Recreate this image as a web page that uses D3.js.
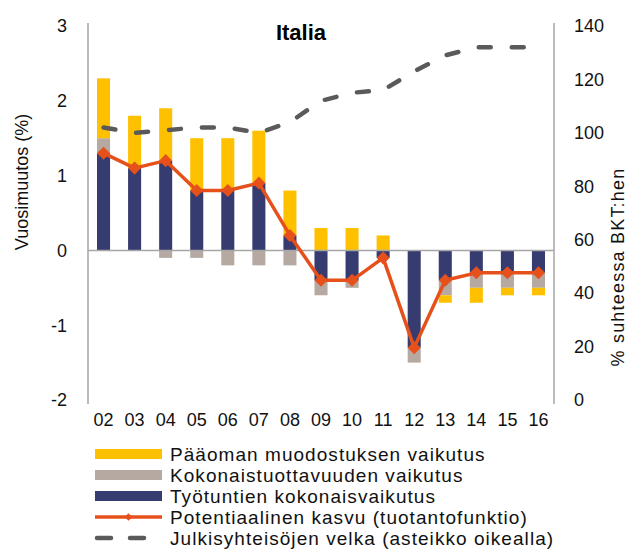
<!DOCTYPE html>
<html>
<head>
<meta charset="utf-8">
<script src="https://cdn.jsdelivr.net/npm/d3@7"></script>
<style>
body { margin: 0; background: #fff; }
svg text { font-family: "Liberation Sans", Arial, sans-serif; fill: #111; }
</style>
</head>
<body>
<div id="chart"></div>
<script>
// data
var years = ["02", "03", "04", "05", "06", "07", "08", "09", "10", "11", "12", "13", "14", "15", "16"];
var tyotunnit = [1.3, 1.1, 1.2, 0.8, 0.8, 0.9, 0.2, -0.4, -0.4, -0.1, -1.3, -0.4, -0.3, -0.3, -0.3];
var tuottavuus = [0.2, 0, -0.1, -0.1, -0.2, -0.2, -0.2, -0.2, -0.1, 0, -0.2, -0.2, -0.2, -0.2, -0.2];
var paaoma = [0.8, 0.7, 0.7, 0.7, 0.7, 0.7, 0.6, 0.3, 0.3, 0.2, 0, -0.1, -0.2, -0.1, -0.1];
var potentiaalinen = [1.3, 1.1, 1.2, 0.8, 0.8, 0.9, 0.2, -0.4, -0.4, -0.1, -1.3, -0.4, -0.3, -0.3, -0.3];
var velka = [102, 100, 101, 102, 102, 100, 104, 112, 115, 116, 123, 129, 132, 132, 132];
var leftTicks = [-2, -1, 0, 1, 2, 3];
var rightTicks = [0, 20, 40, 60, 80, 100, 120, 140];
var legendNames = [
    "Pääoman muodostuksen vaikutus",
    "Kokonaistuottavuuden vaikutus",
    "Työtuntien kokonaisvaikutus",
    "Potentiaalinen kasvu (tuotantofunktio)",
    "Julkisyhteisöjen velka (asteikko oikealla)"
];

var width = 630, height = 550;
var plotLeft = 88, plotRight = 554, plotTop = 26, plotBottom = 400;

var colors = { paa: "#FFC000", tuot: "#B5A9A2", tyo: "#363B70", line: "#E5501B", debt: "#5A5A5A" };

var svg = d3.select("#chart").append("svg")
    .attr("width", width)
    .attr("height", height);

var x = d3.scaleBand().domain(years).range([plotLeft, plotRight])
    .paddingInner(0.58).paddingOuter(0.29);
var y = d3.scaleLinear().domain([-2, 3]).range([plotBottom, plotTop]);
var y2 = d3.scaleLinear().domain([0, 140]).range([plotBottom, plotTop]);

var rows = years.map(function (yr, i) {
    return { year: yr, tyo: tyotunnit[i], tuot: tuottavuus[i], paa: paaoma[i] };
});

var stacked = d3.stack()
    .keys(["tyo", "tuot", "paa"])
    .offset(d3.stackOffsetDiverging)(rows);

// bars
svg.append("g").selectAll("g")
    .data(stacked)
    .enter().append("g")
    .attr("fill", function (d) { return colors[d.key]; })
    .selectAll("rect")
    .data(function (d) { return d; })
    .enter().append("rect")
    .attr("x", function (d) { return x(d.data.year); })
    .attr("width", x.bandwidth())
    .attr("y", function (d) { return y(Math.max(d[0], d[1])); })
    .attr("height", function (d) { return Math.abs(y(d[0]) - y(d[1])); });

// axis lines
svg.append("line").attr("x1", plotLeft).attr("x2", plotRight).attr("y1", y(0)).attr("y2", y(0))
    .attr("stroke", "#A6A6A6").attr("stroke-width", 1.5);
svg.append("line").attr("x1", plotLeft).attr("x2", plotLeft).attr("y1", 23).attr("y2", 404)
    .attr("stroke", "#A6A6A6").attr("stroke-width", 1.5);
svg.append("line").attr("x1", plotRight).attr("x2", plotRight).attr("y1", 23).attr("y2", 404)
    .attr("stroke", "#A6A6A6").attr("stroke-width", 1.5);

var cx = function (i) { return x(years[i]) + x.bandwidth() / 2; };

// debt line (right axis)
svg.append("path")
    .datum(velka)
    .attr("fill", "none")
    .attr("stroke", colors.debt)
    .attr("stroke-width", 4.5)
    .attr("stroke-linecap", "round")
    .attr("stroke-dasharray", "12,21")
    .attr("d", d3.line().x(function (d, i) { return cx(i); }).y(function (d) { return y2(d); }));

// potential growth line
svg.append("path")
    .datum(potentiaalinen)
    .attr("fill", "none")
    .attr("stroke", colors.line)
    .attr("stroke-width", 3.5)
    .attr("stroke-linejoin", "round")
    .attr("d", d3.line().x(function (d, i) { return cx(i); }).y(function (d) { return y(d); }));

var diamond = d3.symbol().type(d3.symbolSquare).size(85);
svg.append("g").selectAll("path")
    .data(potentiaalinen)
    .enter().append("path")
    .attr("d", diamond)
    .attr("fill", colors.line)
    .attr("transform", function (d, i) {
        return "translate(" + cx(i) + "," + y(d) + ") rotate(45)";
    });

// tick labels
svg.append("g").selectAll("text")
    .data(leftTicks)
    .enter().append("text")
    .attr("x", 67)
    .attr("y", function (d) { return y(d); })
    .attr("dy", "0.35em")
    .attr("text-anchor", "end")
    .style("font-size", "18px")
    .text(function (d) { return d; });

svg.append("g").selectAll("text")
    .data(rightTicks)
    .enter().append("text")
    .attr("x", 574)
    .attr("y", function (d) { return y2(d); })
    .attr("dy", "0.35em")
    .style("font-size", "18px")
    .text(function (d) { return d; });

svg.append("g").selectAll("text")
    .data(years)
    .enter().append("text")
    .attr("x", function (d) { return x(d) + x.bandwidth() / 2; })
    .attr("y", 420)
    .attr("dy", "0.35em")
    .attr("text-anchor", "middle")
    .style("font-size", "18px")
    .text(function (d) { return d; });

// titles
svg.append("text")
    .attr("x", 301).attr("y", 40)
    .attr("text-anchor", "middle")
    .style("font-size", "22px")
    .style("font-weight", "bold")
    .style("fill", "#000")
    .text("Italia");

svg.append("text")
    .attr("transform", "translate(28,182) rotate(-90)")
    .attr("text-anchor", "middle")
    .style("font-size", "18px")
    .text("Vuosimuutos (%)");

svg.append("text")
    .attr("transform", "translate(624,267) rotate(-90)")
    .attr("text-anchor", "middle")
    .style("font-size", "18px")
    .style("letter-spacing", "1.2px")
    .text("% suhteessa BKT:hen");

// legend
var legY = [454, 475, 496, 517, 538];
var leg = svg.append("g");
[colors.paa, colors.tuot, colors.tyo].forEach(function (c, i) {
    leg.append("rect").attr("x", 95).attr("y", legY[i] - 5).attr("width", 67).attr("height", 10).attr("fill", c);
});
leg.append("line").attr("x1", 95).attr("x2", 162).attr("y1", legY[3]).attr("y2", legY[3])
    .attr("stroke", colors.line).attr("stroke-width", 3.5);
leg.append("path").attr("d", d3.symbol().type(d3.symbolSquare).size(30))
    .attr("fill", colors.line)
    .attr("transform", "translate(128.5," + legY[3] + ") rotate(45)");
leg.append("line").attr("x1", 97).attr("x2", 160).attr("y1", legY[4]).attr("y2", legY[4])
    .attr("stroke", colors.debt).attr("stroke-width", 4.5)
    .attr("stroke-linecap", "round").attr("stroke-dasharray", "14,19");

leg.selectAll("text")
    .data(legendNames)
    .enter().append("text")
    .attr("x", 170)
    .attr("y", function (d, i) { return legY[i]; })
    .attr("dy", "0.35em")
    .style("font-size", "19px")
    .style("letter-spacing", "1.05px")
    .text(function (d) { return d; });
</script>
</body>
</html>
